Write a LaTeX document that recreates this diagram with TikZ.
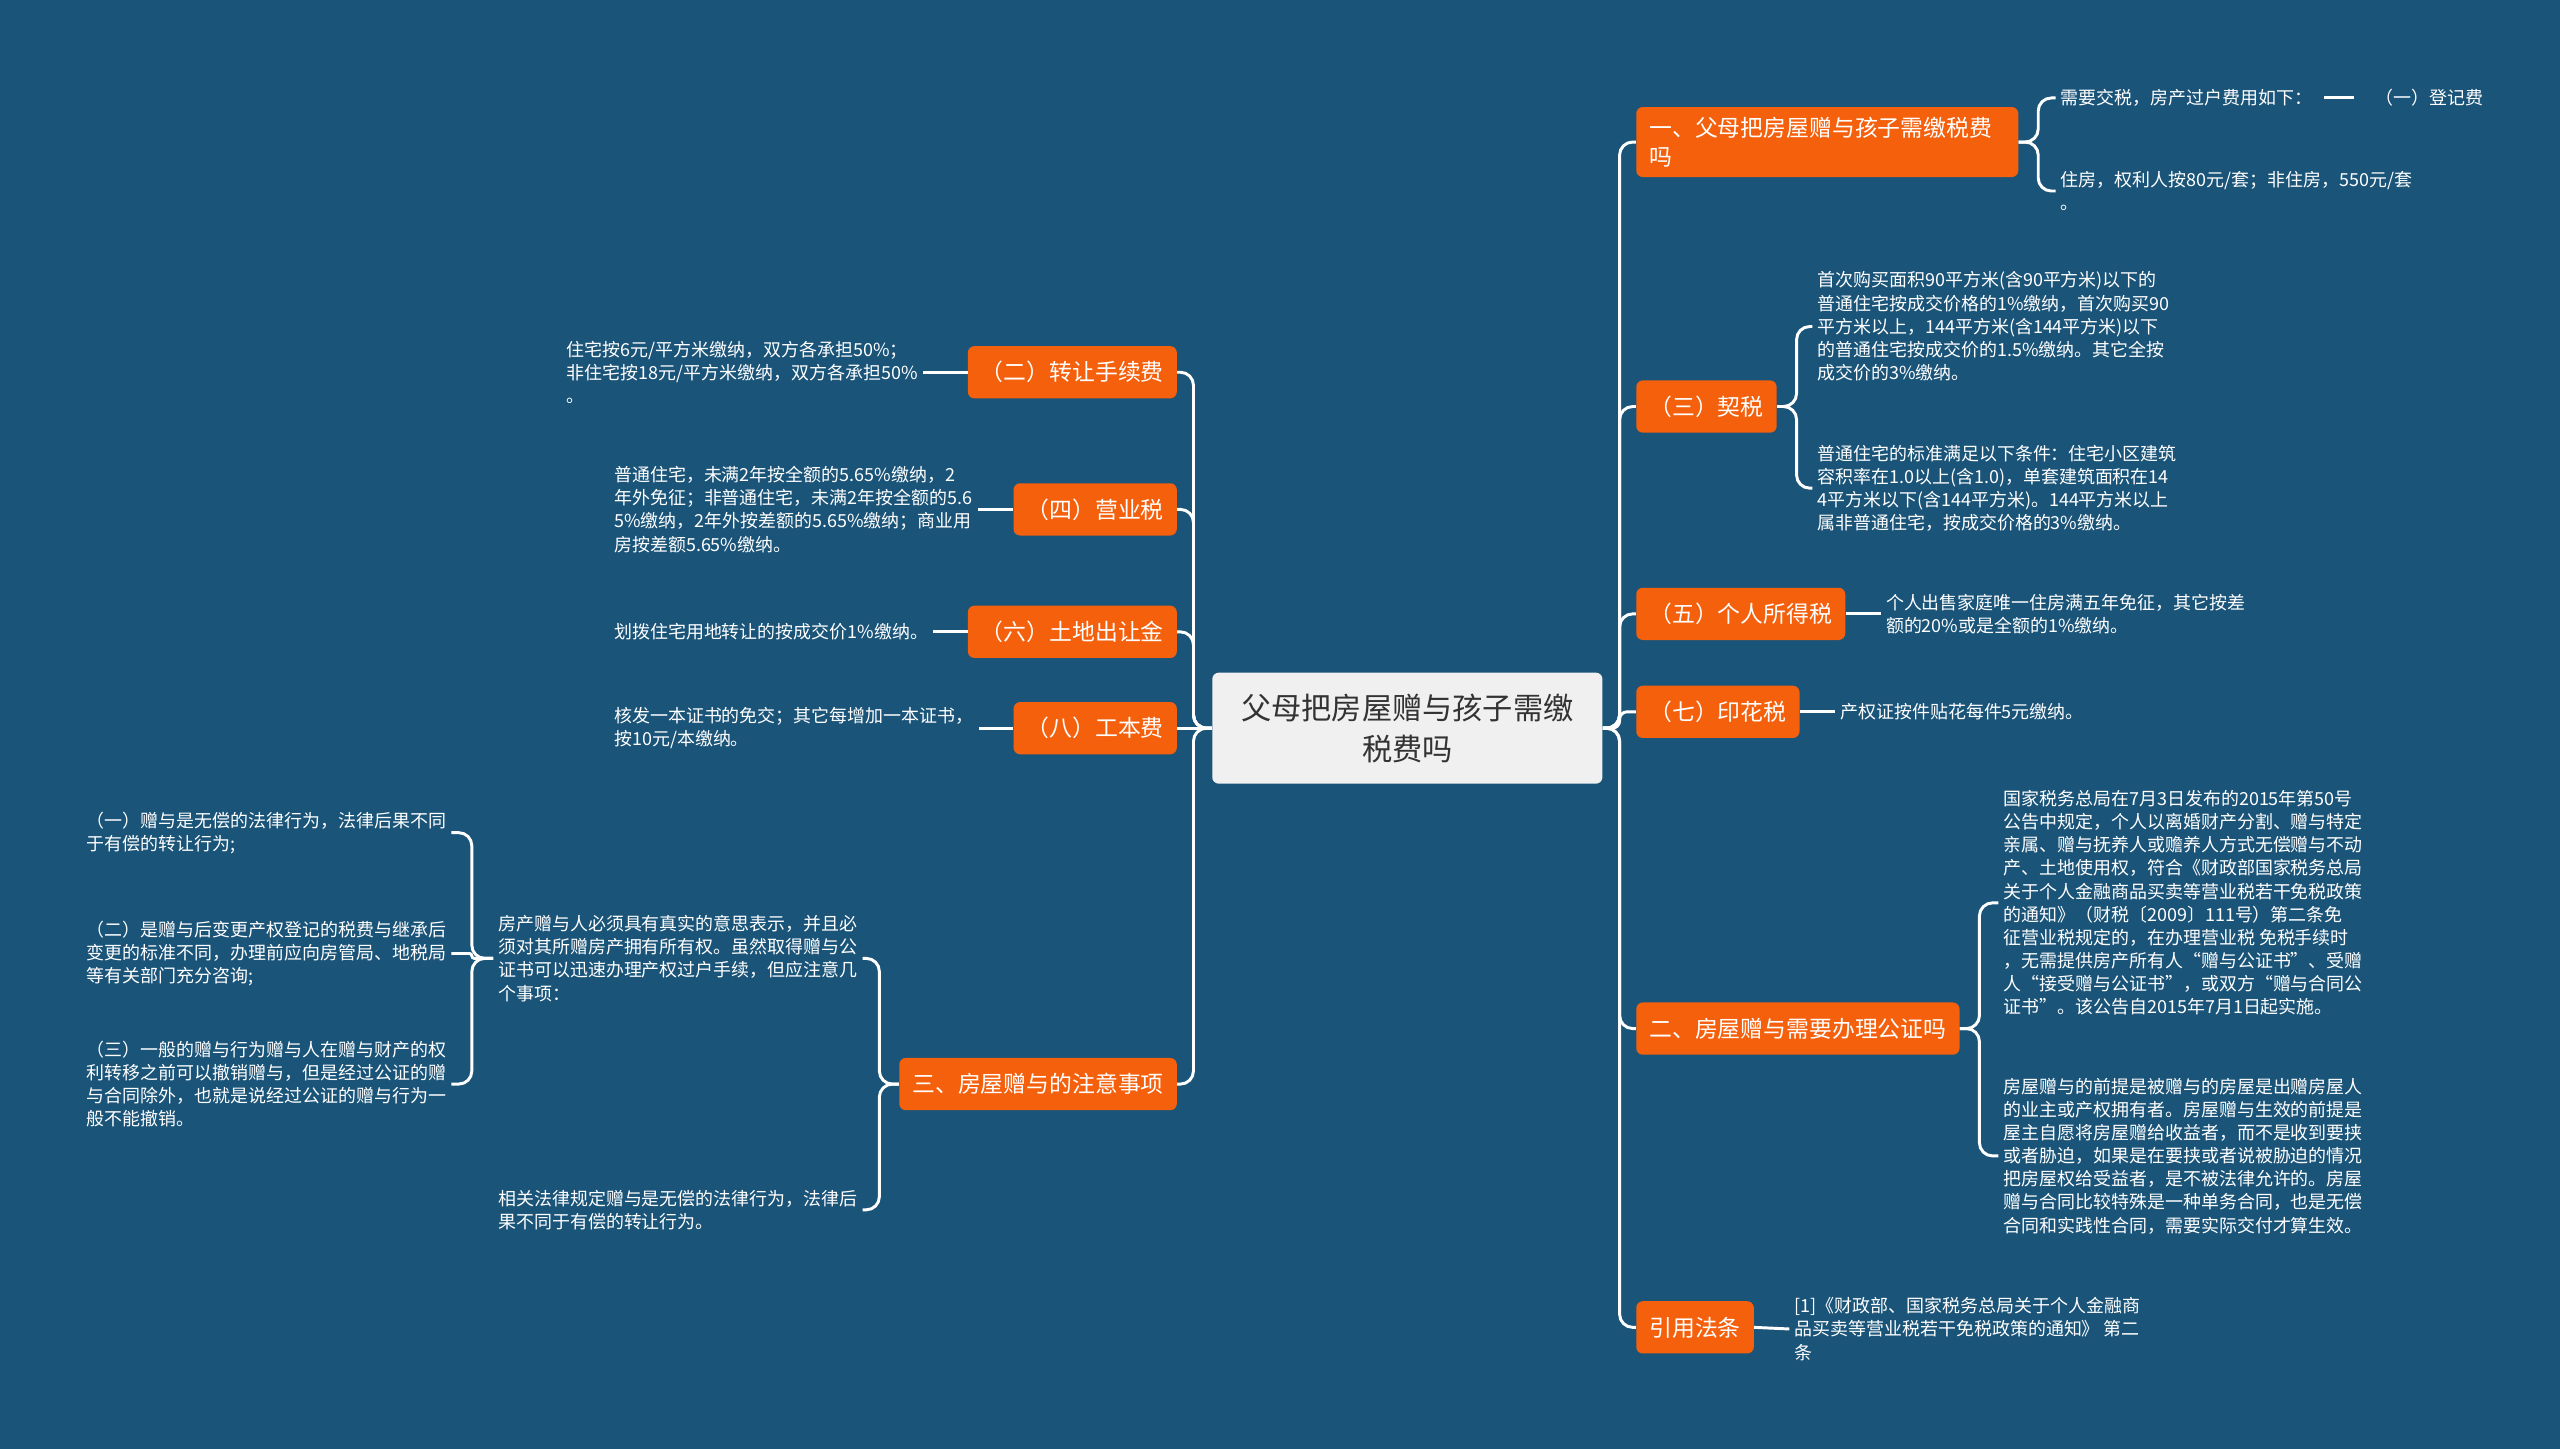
\documentclass[tikz,border=0pt]{standalone}
\usepackage{fontspec}
\setmainfont{Noto Sans CJK SC}
\definecolor{bg}{RGB}{26,84,121}
\definecolor{org}{RGB}{245,96,12}
\definecolor{rootfill}{RGB}{240,240,240}
\definecolor{roottext}{RGB}{51,51,51}
\begin{document}
\begin{tikzpicture}[x=1pt,y=-1pt,
  topic/.style={fill=org, text=white, rounded corners=4pt, inner xsep=8pt, inner ysep=0pt,
    minimum height=32pt, font=\fontsize{14}{18}\selectfont},
  leaf/.style={text=white, align=left, inner sep=3pt, anchor=west, font=\fontsize{11}{14.2}\selectfont},
  link/.style={draw=white, line width=1.8pt, rounded corners=8pt}
]
\useasboundingbox[fill=bg] (0,0) rectangle (1568,887.5);

% root
\node[fill=rootfill, text=roottext, rounded corners=4pt, minimum width=239pt, minimum height=68pt,
  align=center, font=\fontsize{18.5}{25}\selectfont] (root) at (862,446) {父母把房屋赠与孩子需缴\\税费吗};

% right topics
\node[topic, anchor=west, text width=218pt, align=left, inner ysep=6pt] (R1) at (1002,87) {一、父母把房屋赠与孩子需缴税费\\吗};
\node[topic, anchor=west] (R2) at (1002,249) {（三）契税};
\node[topic, anchor=west] (R3) at (1002,376) {（五）个人所得税};
\node[topic, anchor=west] (R4) at (1002,436) {（七）印花税};
\node[topic, anchor=west] (R5) at (1002,630) {二、房屋赠与需要办理公证吗};
\node[topic, anchor=west] (R6) at (1002,813) {引用法条};

% left topics
\node[topic, anchor=east] (L1) at (721,228) {（二）转让手续费};
\node[topic, anchor=east] (L2) at (721,312) {（四）营业税};
\node[topic, anchor=east] (L3) at (721,387) {（六）土地出让金};
\node[topic, anchor=east] (L4) at (721,446) {（八）工本费};
\node[topic, anchor=east] (L5) at (721,664) {三、房屋赠与的注意事项};

% right leaves
\node[leaf] (R1a) at (1259,60) {需要交税，房产过户费用如下：};
\node[leaf] (R1a1) at (1452,60) {（一）登记费};
\node[leaf] (R1b) at (1259,117) {住房，权利人按80元/套；非住房，550元/套\\。};
\node[leaf] (R2a) at (1110,200) {首次购买面积90平方米(含90平方米)以下的\\普通住宅按成交价格的1\%缴纳，首次购买90\\平方米以上，144平方米(含144平方米)以下\\的普通住宅按成交价的1.5\%缴纳。其它全按\\成交价的3\%缴纳。};
\node[leaf] (R2b) at (1110,299) {普通住宅的标准满足以下条件：住宅小区建筑\\容积率在1.0以上(含1.0)，单套建筑面积在14\\4平方米以下(含144平方米)。144平方米以上\\属非普通住宅，按成交价格的3\%缴纳。};
\node[leaf] (R3a) at (1152,376) {个人出售家庭唯一住房满五年免征，其它按差\\额的20\%或是全额的1\%缴纳。};
\node[leaf] (R4a) at (1124,436) {产权证按件贴花每件5元缴纳。};
\node[leaf] (R5a) at (1224,553) {国家税务总局在7月3日发布的2015年第50号\\公告中规定，个人以离婚财产分割、赠与特定\\亲属、赠与抚养人或赡养人方式无偿赠与不动\\产、土地使用权，符合《财政部国家税务总局\\关于个人金融商品买卖等营业税若干免税政策\\的通知》（财税〔2009〕111号）第二条免\\征营业税规定的，在办理营业税 免税手续时\\，无需提供房产所有人“赠与公证书”、受赠\\人“接受赠与公证书”，或双方“赠与合同公\\证书”。该公告自2015年7月1日起实施。};
\node[leaf] (R5b) at (1224,708) {房屋赠与的前提是被赠与的房屋是出赠房屋人\\的业主或产权拥有者。房屋赠与生效的前提是\\屋主自愿将房屋赠给收益者，而不是收到要挟\\或者胁迫，如果是在要挟或者说被胁迫的情况\\把房屋权给受益者，是不被法律允许的。房屋\\赠与合同比较特殊是一种单务合同，也是无偿\\合同和实践性合同，需要实际交付才算生效。};
\node[leaf] (R6a) at (1096,814) {[1]《财政部、国家税务总局关于个人金融商\\品买卖等营业税若干免税政策的通知》 第二\\条};

% left leaves
\node[leaf] (L1a) at (344,228) {住宅按6元/平方米缴纳，双方各承担50\%；\\非住宅按18元/平方米缴纳，双方各承担50\%\\。};
\node[leaf] (L2a) at (373,312) {普通住宅，未满2年按全额的5.65\%缴纳，2\\年外免征；非普通住宅，未满2年按全额的5.6\\5\%缴纳，2年外按差额的5.65\%缴纳；商业用\\房按差额5.65\%缴纳。};
\node[leaf] (L3a) at (373,387) {划拨住宅用地转让的按成交价1\%缴纳。};
\node[leaf] (L4a) at (373,446) {核发一本证书的免交；其它每增加一本证书，\\按10元/本缴纳。};
\node[leaf] (L5a) at (302,587) {房产赠与人必须具有真实的意思表示，并且必\\须对其所赠房产拥有所有权。虽然取得赠与公\\证书可以迅速办理产权过户手续，但应注意几\\个事项：};
\node[leaf] (L5b) at (302,741) {相关法律规定赠与是无偿的法律行为，法律后\\果不同于有偿的转让行为。};
\node[leaf] (A1) at (50,510) {（一）赠与是无偿的法律行为，法律后果不同\\于有偿的转让行为;};
\node[leaf] (A2) at (50,584) {（二）是赠与后变更产权登记的税费与继承后\\变更的标准不同，办理前应向房管局、地税局\\等有关部门充分咨询;};
\node[leaf] (A3) at (50,664) {（三）一般的赠与行为赠与人在赠与财产的权\\利转移之前可以撤销赠与，但是经过公证的赠\\与合同除外，也就是说经过公证的赠与行为一\\般不能撤销。};

% trunks
\coordinate (rt) at (992,446);
\coordinate (lt) at (731,446);
\foreach \n in {R1,R2,R3,R5,R6} {\draw[link] (root.east) -- (rt) |- (\n.west);}
\draw[link, rounded corners=4.5pt] (root.east) -- (rt) |- (R4.west);
\foreach \n in {L1,L2,L3,L5} {\draw[link] (root.west) -- (lt) |- (\n.east);}
\draw[link] (root.west) -- (L4.east);

% right brackets and links
\foreach \c in {R1a,R1b} {\draw[link] (R1.east) -- ++(12,0) |- (\c.west);}
\draw[link, shorten <=4pt, shorten >=10pt] (R1a.east) -- (R1a1.west);
\foreach \c in {R2a,R2b} {\draw[link] (R2.east) -- ++(12,0) |- (\c.west);}
\draw[link] (R3.east) -- (R3a.west);
\draw[link] (R4.east) -- (R4a.west);
\foreach \c in {R5a,R5b} {\draw[link] (R5.east) -- ++(12,0) |- (\c.west);}
\draw[link] (R6.east) -- (R6a.west);

% left links
\draw[link] (L1.west) -- (L1a.east);
\draw[link] (L2.west) -- (L2a.east);
\draw[link] (L3.west) -- (L3a.east);
\draw[link] (L4.west) -- (L4a.east);
\foreach \c in {L5a,L5b} {\draw[link] (L5.west) -- ++(-12,0) |- (\c.east);}
\foreach \c in {A1,A3} {\draw[link] (L5a.west) -- ++(-13,0) |- (\c.east);}
\draw[link, rounded corners=1.5pt] (L5a.west) -- ++(-13,0) |- (A2.east);
\end{tikzpicture}
\end{document}
